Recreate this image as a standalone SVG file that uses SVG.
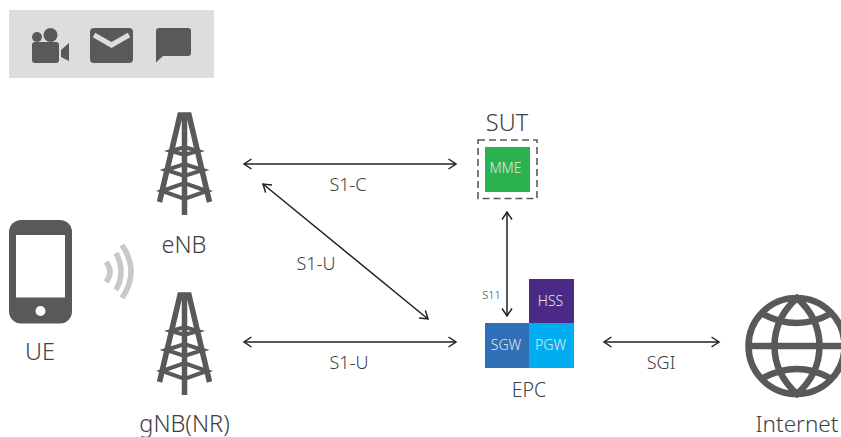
<svg xmlns="http://www.w3.org/2000/svg" width="841" height="437" viewBox="0 0 841 437">
<style>
text{font-family:"Noto Sans","Open Sans",sans-serif;font-weight:300;fill:#414042;text-anchor:middle}
.l{font-size:23.500px}.e{font-size:19.500px}.m{font-size:18px}.w{font-size:14px;fill:#e4e4ea}
.ic{fill:#58595b}
.leg{fill:none;stroke:#58595b;stroke-width:5.500;stroke-linejoin:miter}
.rung{fill:none;stroke:#58595b;stroke-width:4}
.c{fill:none;stroke:#231f20;stroke-width:1.500;marker-start:url(#a);marker-end:url(#a)}
</style>
<defs>
<marker id="a" viewBox="-10 -6 12 12" markerWidth="12" markerHeight="12" markerUnits="userSpaceOnUse" refX="0" refY="0" orient="auto-start-reverse"><path d="M-7.500 -5 L0 0 L-7.500 5" fill="none" stroke="#231f20" stroke-width="1.500"/></marker>
<g id="tower">
<path class="leg" d="M159.500 202 L180 115 H189 L209.500 202 M184.500 113 V215"/>
<path class="rung" d="M171 151 L184.500 147 L198 151 L184.500 155Z M166 170 L184.500 164 L203 170 L184.500 176Z M162 191 L184.500 183 L207 191 L184.500 199Z"/>
</g>
</defs>
<g id="apps">
<rect x="9" y="10" width="205" height="68" fill="#dcddde"/>
<circle cx="37" cy="37" r="5" class="ic"/><circle cx="50.500" cy="35" r="7" class="ic"/>
<rect x="32" y="42" width="27" height="21" rx="3" class="ic"/><path class="ic" d="M61 50 L69 43 V61 L61 57Z"/>
<rect x="90" y="28" width="43" height="35" rx="4" class="ic"/><path d="M94 35 L111.500 45 L129 35" fill="none" stroke="#dcddde" stroke-width="5"/>
<path class="ic" d="M159 28 H188 Q191 28 191 31 V53 Q191 56 188 56 H163 L156 62.500 V31 Q156 28 159 28Z"/>
</g>
<g id="ue">
<rect x="9" y="220" width="63" height="103.500" rx="12" class="ic"/>
<rect x="16" y="235" width="49" height="62.500" fill="#fff"/>
<circle cx="40.500" cy="311" r="5" fill="#fff"/>
<path d="M106 262 Q114 272 106 282 M116 253 Q126 272 116 290 M122 245 Q140 272 122 298" fill="none" stroke="#c7c8ca" stroke-width="5.500"/>
<text class="l" x="40" y="360">UE</text>
</g>
<g id="enb"><use href="#tower"/><text class="l" x="184" y="253">eNB</text></g>
<g id="gnb"><use href="#tower" y="180"/><text class="l" x="184.500" y="431.500">gNB(NR)</text></g>
<g id="mme">
<text class="l" x="507" y="131">SUT</text>
<rect x="478" y="140" width="59" height="58.500" fill="none" stroke="#58595b" stroke-width="1.600" stroke-dasharray="7 4"/>
<rect x="485" y="147" width="45" height="45" fill="#2bb24c"/>
<text class="w" x="505.500" y="173">MME</text>
</g>
<g id="epc">
<rect x="529" y="279" width="45" height="44" fill="#4b2a86"/>
<rect x="485" y="323" width="44" height="45" fill="#2f6fb5"/>
<rect x="529" y="323" width="45" height="45" fill="#00aeef"/>
<text class="w" x="550.500" y="306">HSS</text><text class="w" x="506" y="350">SGW</text><text class="w" x="550.500" y="350">PGW</text>
<text class="e" x="529" y="397">EPC</text>
</g>
<g id="internet">
<g fill="none" stroke="#58595b" stroke-width="6.500">
<circle cx="796.500" cy="346" r="48"/>
<path d="M797 298 C767 325 767 367 797 394 C827 367 827 325 797 298Z"/>
<path d="M749 346 H845 M763 314 Q797 332 830 314 M763 378 Q797 360 830 378"/>
</g>
<text class="l" x="797" y="431.500" font-size="22.500" style="font-size:22.500px">Internet</text>
</g>
<g id="connectors">
<path class="c" d="M244 164 H456"/>
<path class="c" d="M263 184 L428 319"/>
<path class="c" d="M244 342 H456"/>
<path class="c" d="M507 212 V316"/>
<path class="c" d="M604 342 H719"/>
<text class="m" x="348" y="191">S1-C</text>
<text class="m" x="316" y="270">S1-U</text>
<text class="m" x="349" y="369">S1-U</text>
<text class="m" x="661" y="369">SGI</text>
<text x="491.500" y="299" font-size="11">S11</text>
</g>
</svg>
